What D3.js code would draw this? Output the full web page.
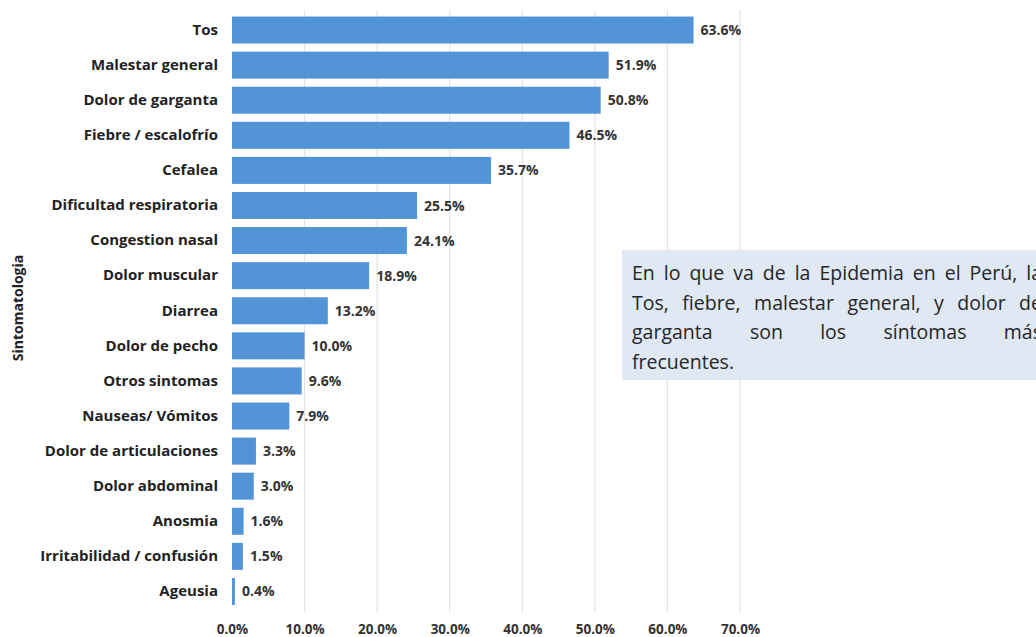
<!DOCTYPE html>
<html lang="es">
<head>
<meta charset="utf-8">
<script src="https://cdn.jsdelivr.net/npm/d3@7"></script>
<style>
  html, body { margin: 0; padding: 0; background: #ffffff; }
  svg { display: block; }
</style>
</head>
<body>
<svg id="chart" width="1036" height="637"></svg>
<script>
// Síntomas reportados (porcentaje de casos)
const categories = [
  "Tos", "Malestar general", "Dolor de garganta", "Fiebre / escalofrío",
  "Cefalea", "Dificultad respiratoria", "Congestion nasal", "Dolor muscular",
  "Diarrea", "Dolor de pecho", "Otros sintomas", "Nauseas/ Vómitos",
  "Dolor de articulaciones", "Dolor abdominal", "Anosmia",
  "Irritabilidad / confusión", "Ageusia"
];
const values = [63.6, 51.9, 50.8, 46.5, 35.7, 25.5, 24.1, 18.9, 13.2, 10.0, 9.6, 7.9, 3.3, 3.0, 1.6, 1.5, 0.4];
const tickValues = [0, 10, 20, 30, 40, 50, 60, 70];
const axisTitle = "Sintomatologia";
const noteLines = [
  "En lo que va de la Epidemia en el Perú, la",
  "Tos, fiebre, malestar general, y dolor de",
  "garganta son los síntomas más",
  "frecuentes."
];

const data = categories.map((c, i) => ({ name: c, value: values[i] }));
const fmt = v => v.toFixed(1) + "%";
const FONT = "'Open Sans', 'DejaVu Sans', sans-serif";

const svg = d3.select("#chart");

const x = d3.scaleLinear().domain([0, 70]).range([232, 740]);
const y = d3.scaleBand()
  .domain(categories)
  .range([12.5, 609])
  .paddingInner(0.23)
  .paddingOuter(0.115);

// Vertical gridlines
svg.append("g")
  .selectAll("line")
  .data(tickValues.filter(t => t > 0))
  .join("line")
  .attr("x1", d => x(d)).attr("x2", d => x(d))
  .attr("y1", 10).attr("y2", 612)
  .attr("stroke", "#e3e3e3")
  .attr("stroke-width", 1.2);

// Bars
svg.append("g")
  .selectAll("rect")
  .data(data)
  .join("rect")
  .attr("x", x(0))
  .attr("y", d => y(d.name))
  .attr("width", d => Math.max(2.5, x(d.value) - x(0)))
  .attr("height", y.bandwidth())
  .attr("fill", "#5294d6");

// Value labels
svg.append("g")
  .selectAll("text")
  .data(data)
  .join("text")
  .attr("x", d => Math.max(x(0) + 2.5, x(d.value)) + 7)
  .attr("y", d => y(d.name) + y.bandwidth() / 2)
  .attr("dy", "0.36em")
  .attr("font-family", FONT)
  .attr("font-weight", 700)
  .attr("font-size", 14)
  .attr("fill", "#333")
  .text(d => fmt(d.value));

// Category axis
const yAxis = svg.append("g")
  .attr("transform", `translate(${x(0)},0)`)
  .call(d3.axisLeft(y).tickSize(0).tickPadding(14));
yAxis.select(".domain").remove();
yAxis.selectAll("text")
  .attr("font-family", FONT)
  .attr("font-weight", 700)
  .attr("font-size", 15)
  .attr("fill", "#222");

// Value axis
const xAxis = svg.append("g")
  .attr("transform", "translate(0,614)")
  .call(d3.axisBottom(x).tickValues(tickValues).tickFormat(d => d.toFixed(1) + "%").tickSize(0).tickPadding(10));
xAxis.select(".domain").remove();
xAxis.selectAll("text")
  .attr("font-family", FONT)
  .attr("font-weight", 700)
  .attr("font-size", 13.5)
  .attr("fill", "#333");

// Axis title
svg.append("text")
  .attr("transform", "translate(23,308) rotate(-90)")
  .attr("text-anchor", "middle")
  .attr("font-family", FONT)
  .attr("font-weight", 700)
  .attr("font-size", 14)
  .attr("fill", "#222")
  .text(axisTitle);

// Note box with justified text
const note = svg.append("g");
note.append("rect")
  .attr("x", 622).attr("y", 250)
  .attr("width", 430).attr("height", 130)
  .attr("fill", "#dfe8f3");

const textLeft = 632, textRight = 1042, lineTop = 273, lineStep = 29.5;
noteLines.forEach((line, i) => {
  const words = line.split(" ");
  const yPos = lineTop + i * lineStep;
  const last = i === noteLines.length - 1;
  const g = note.append("g");
  const nodes = words.map(w => g.append("text")
    .attr("y", yPos)
    .attr("dy", "0.36em")
    .attr("font-family", FONT)
    .attr("font-size", 19.5)
    .attr("fill", "#262626")
    .text(w));
  const widths = nodes.map(n => n.node().getComputedTextLength());
  const total = d3.sum(widths);
  const space = last || words.length < 2
    ? 5
    : Math.max(4, (textRight - textLeft - total) / (words.length - 1));
  let cx = textLeft;
  nodes.forEach((n, k) => { n.attr("x", cx); cx += widths[k] + space; });
});
</script>
</body>
</html>
